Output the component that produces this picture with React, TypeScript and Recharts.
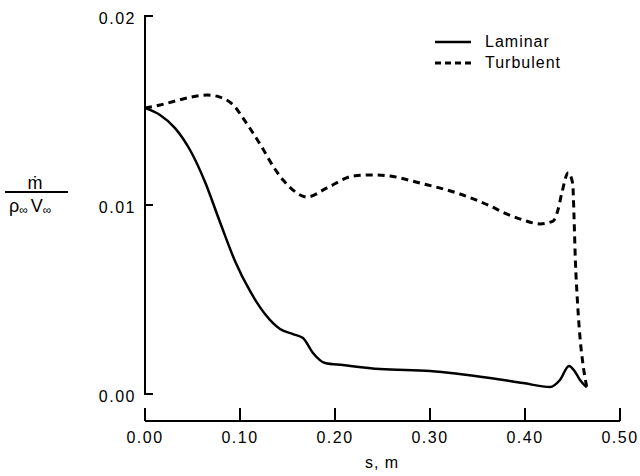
import { LineChart, Line, XAxis, YAxis, Legend, ReferenceLine } from "recharts";

// Laminar curve
const laminarS = [
  0, 0.0158, 0.0316, 0.0474, 0.0632, 0.0789, 0.0947, 0.1105, 0.1263, 0.1421,
  0.1558, 0.1663, 0.1768, 0.1895, 0.2084, 0.2474, 0.3, 0.363, 0.398, 0.4263,
  0.4368, 0.4463, 0.4526, 0.4579, 0.465,
];
const laminarV = [
  0.01513, 0.01476, 0.01407, 0.01291, 0.01122, 0.0091, 0.00704, 0.00545,
  0.00423, 0.00344, 0.00317, 0.00296, 0.00217, 0.00164, 0.00153, 0.00132,
  0.00122, 0.00085, 0.00058, 0.00037, 0.00074, 0.00148, 0.00118, 0.00074,
  0.00035,
];

// Turbulent curve
const turbulentS = [
  0, 0.0158, 0.0316, 0.0474, 0.0653, 0.0789, 0.0947, 0.1032, 0.1137, 0.1242,
  0.1347, 0.1453, 0.1558, 0.1705, 0.1916, 0.219, 0.24, 0.258, 0.2895, 0.3316,
  0.3632, 0.3811, 0.3979, 0.4158, 0.4295, 0.4347, 0.4386, 0.4456, 0.4502,
  0.4516, 0.453, 0.4551, 0.4579, 0.4614, 0.4649,
];
const turbulentV = [
  0.01513, 0.01529, 0.0155, 0.0157, 0.01582, 0.01571, 0.01519, 0.0146,
  0.01381, 0.01296, 0.01206, 0.01132, 0.01079, 0.01042, 0.0109, 0.01153,
  0.01159, 0.01153, 0.01116, 0.01058, 0.00995, 0.00952, 0.00921, 0.009,
  0.00915, 0.00974, 0.0106, 0.01171, 0.01114, 0.00938, 0.0071, 0.005, 0.003,
  0.00144, 0.0004,
];

const xTicks = [0, 0.1, 0.2, 0.3, 0.4, 0.5];
const yTicks = [0, 0.01, 0.02];

const laminar = laminarS.map((s, i) => ({ s, v: laminarV[i] }));
const turbulent = turbulentS.map((s, i) => ({ s, v: turbulentV[i] }));

const FONT = "'Liberation Sans', Arial, Helvetica, sans-serif";

const XTick = (props: any) => {
  const { x, y, payload } = props;
  return (
    <g>
      <line x1={x} y1={y} x2={x} y2={y - 13} stroke="#000" strokeWidth={2} />
      <text
        x={x}
        y={y + 11}
        dy="0.71em"
        textAnchor="middle"
        fontFamily={FONT}
        fontSize={16}
        letterSpacing={1.5}
        fill="#000"
      >
        {payload.value.toFixed(2)}
      </text>
    </g>
  );
};

const YTick = (props: any) => {
  const { x, y, payload } = props;
  return (
    <g>
      <line x1={x + 7} y1={y} x2={x + 16} y2={y} stroke="#000" strokeWidth={2} />
      <text
        x={x - 1}
        y={y + 2}
        dy="0.36em"
        textAnchor="end"
        fontFamily={FONT}
        fontSize={16}
        letterSpacing={1.5}
        fill="#000"
      >
        {payload.value.toFixed(2)}
      </text>
    </g>
  );
};

// m-dot over rho_inf V_inf
const FractionLabel = () => (
  <g fontFamily={FONT} fill="#000">
    <text x={35} y={189} textAnchor="middle" fontSize={18}>
      ṁ
    </text>
    <line x1={5} y1={192} x2={68} y2={192} stroke="#000" strokeWidth={2} />
    <text x={9} y={212} fontSize={18}>
      ρ<tspan fontSize={12} dy={2}>∞</tspan>
      <tspan fontSize={18} dy={-2} dx={3}>V</tspan>
      <tspan fontSize={12} dy={2}>∞</tspan>
    </text>
  </g>
);

const XLabel = () => (
  <text
    x={382}
    y={468}
    textAnchor="middle"
    fontFamily={FONT}
    fontSize={16}
    letterSpacing={1}
    fill="#000"
  >
    s, m
  </text>
);

const renderLegend = (props: any) => {
  const { payload } = props;
  return (
    <div style={{ fontFamily: FONT, fontSize: 16, letterSpacing: 1, color: "#000" }}>
      {payload.map((entry: any) => (
        <div
          key={entry.value}
          style={{ display: "flex", alignItems: "center", height: 21 }}
        >
          <svg width={40} height={10} style={{ marginRight: 12 }}>
            <line
              x1={2}
              y1={5}
              x2={38}
              y2={5}
              stroke="#000"
              strokeWidth={entry.value === "Laminar" ? 2.5 : 3}
              strokeDasharray={entry.value === "Laminar" ? undefined : "6 4"}
            />
          </svg>
          <span>{entry.value}</span>
        </div>
      ))}
    </div>
  );
};

export default function App() {
  return (
    <div style={{ position: "absolute", left: 0, top: 0, background: "#fff" }}>
      <LineChart
        width={640}
        height={474}
        margin={{ top: 16, right: 20, bottom: 8, left: 70 }}
      >
        <XAxis
          type="number"
          dataKey="s"
          domain={[0, 0.5]}
          ticks={xTicks}
          tickSize={0}
          tickMargin={0}
          tick={<XTick />}
          axisLine={{ stroke: "#000", strokeWidth: 2 }}
          tickLine={false}
          height={45}
          allowDataOverflow
          label={<XLabel />}
        />
        <YAxis
          type="number"
          dataKey="v"
          domain={[-0.00143, 0.02]}
          ticks={yTicks}
          tickSize={0}
          tickMargin={8}
          tick={<YTick />}
          axisLine={false}
          tickLine={false}
          width={75}
          allowDataOverflow
          label={<FractionLabel />}
        />
        <ReferenceLine
          segment={[
            { x: 0, y: 0 },
            { x: 0, y: 0.02 },
          ]}
          stroke="#000"
          strokeWidth={2}
          ifOverflow="visible"
        />
        <Legend
          layout="vertical"
          align="center"
          verticalAlign="middle"
          content={renderLegend}
          wrapperStyle={{ position: "absolute", left: 433, top: 31, width: 160 }}
        />
        <Line
          name="Laminar"
          data={laminar}
          dataKey="v"
          type="monotone"
          stroke="#000"
          strokeWidth={2.5}
          dot={false}
          isAnimationActive={false}
        />
        <Line
          name="Turbulent"
          data={turbulent}
          dataKey="v"
          type="monotone"
          stroke="#000"
          strokeWidth={3}
          strokeDasharray="7 5"
          dot={false}
          isAnimationActive={false}
        />
      </LineChart>
    </div>
  );
}
